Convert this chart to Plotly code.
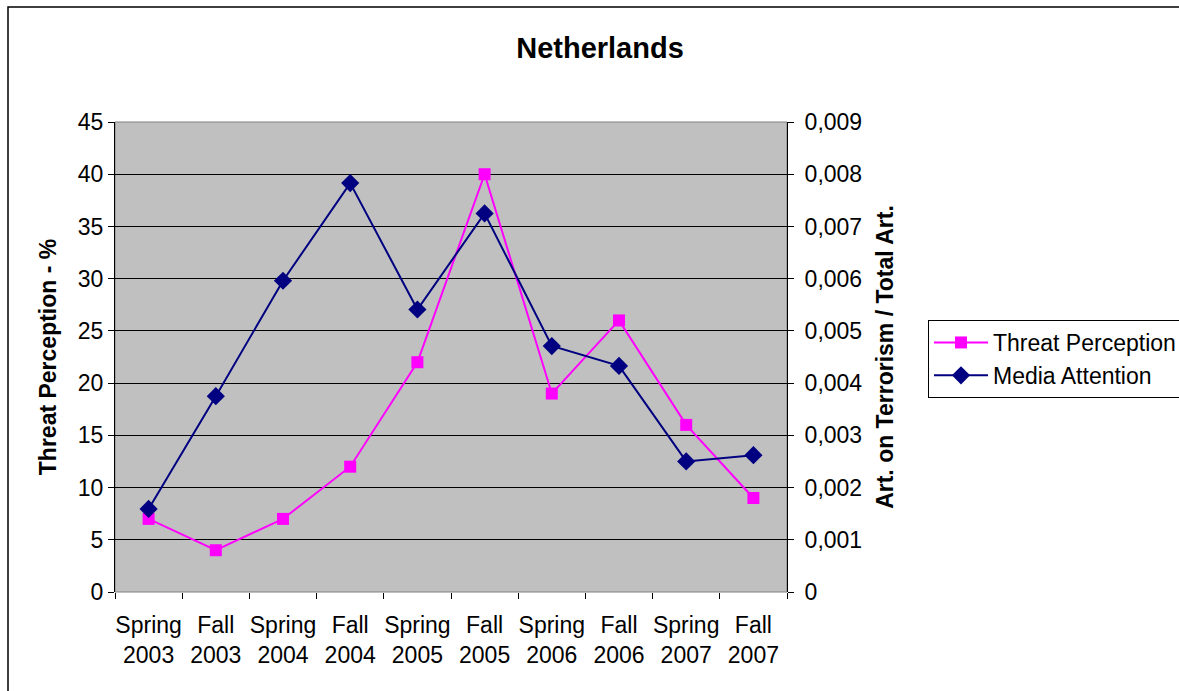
import plotly.graph_objects as go

# Survey periods
periods = ["Spring<br>2003", "Fall<br>2003", "Spring<br>2004", "Fall<br>2004", "Spring<br>2005",
           "Fall<br>2005", "Spring<br>2006", "Fall<br>2006", "Spring<br>2007", "Fall<br>2007"]

# Share of respondents naming terrorism as a threat (%)
threat_perception = [7, 4, 7, 12, 22, 40, 19, 26, 16, 9]

# Articles on terrorism as a share of all articles
media_attention = [0.00159, 0.00375, 0.00596, 0.00783, 0.00541,
                   0.00725, 0.00471, 0.00433, 0.00250, 0.00262]

left_ticks = [0, 5, 10, 15, 20, 25, 30, 35, 40, 45]
right_ticks = [0, 0.001, 0.002, 0.003, 0.004, 0.005, 0.006, 0.007, 0.008, 0.009]
right_tick_text = ["0", "0,001", "0,002", "0,003", "0,004", "0,005", "0,006", "0,007", "0,008", "0,009"]

FONT = "Liberation Sans, Arial, sans-serif"
FS = 23

fig = go.Figure()
fig.add_trace(go.Scatter(
    x=periods, y=threat_perception, name="Threat Perception", mode="lines+markers",
    line=dict(color="#FF00FF", width=2),
    marker=dict(symbol="square", size=12, color="#FF00FF"),
    yaxis="y"))
fig.add_trace(go.Scatter(
    x=periods, y=media_attention, name="Media Attention", mode="lines+markers",
    line=dict(color="#000080", width=2),
    marker=dict(symbol="diamond", size=14, color="#000080"),
    yaxis="y2"))

fig.update_layout(
    width=1179, height=691,
    margin=dict(l=115, r=392, t=122, b=99, autoexpand=False),
    paper_bgcolor="white", plot_bgcolor="#C0C0C0",
    font=dict(family=FONT, size=FS, color="black"),
    title=dict(text="<b>Netherlands</b>", x=600 / 1179, xanchor="center",
               y=1 - 48 / 691, yanchor="middle", font=dict(size=29)),
    xaxis=dict(type="category", showgrid=False, showline=False,
               ticks="outside", tickson="boundaries", ticklen=6, tickcolor="black",
               tickfont=dict(size=FS), tickangle=0, ticklabelstandoff=17,
               automargin=False, range=[-0.5, 9.5]),
    yaxis=dict(range=[0, 45], tickvals=left_ticks, showgrid=True, gridcolor="black",
               gridwidth=1, showline=True, linecolor="black", linewidth=1,
               ticks="outside", ticklen=6, tickcolor="black", zeroline=False,
               tickfont=dict(size=FS), automargin=False,
               title=dict(text="<b>Threat Perception - %</b>", font=dict(size=FS), standoff=14)),
    yaxis2=dict(range=[0, 0.009], tickvals=right_ticks, ticktext=right_tick_text,
                overlaying="y", side="right", showgrid=False, showline=True,
                linecolor="black", linewidth=1, ticks="outside", ticklen=6,
                tickcolor="black", zeroline=False, tickfont=dict(size=FS),
                ticklabelstandoff=6, automargin=False,
                title=dict(text="<b>Art. on Terrorism / Total Art.</b>", font=dict(size=FS), standoff=15)),
    legend=dict(x=(928 - 115) / 672, y=(592 - 320) / 470, xanchor="left", yanchor="top",
                bordercolor="black", borderwidth=1, bgcolor="white",
                font=dict(size=FS), tracegroupgap=2, itemwidth=54),
    showlegend=True,
    shapes=[
        # plot area frame
        dict(type="rect", xref="paper", yref="paper", x0=0, x1=1, y0=0, y1=1,
             line=dict(color="#808080", width=1), layer="below"),
        # outer chart frame
        dict(type="rect", xref="paper", yref="paper",
             x0=(8 - 115) / 672, x1=2.0, y0=-0.5, y1=(592 - 7) / 470,
             line=dict(color="black", width=1.5)),
    ],
)

fig.write_html("out.html")
